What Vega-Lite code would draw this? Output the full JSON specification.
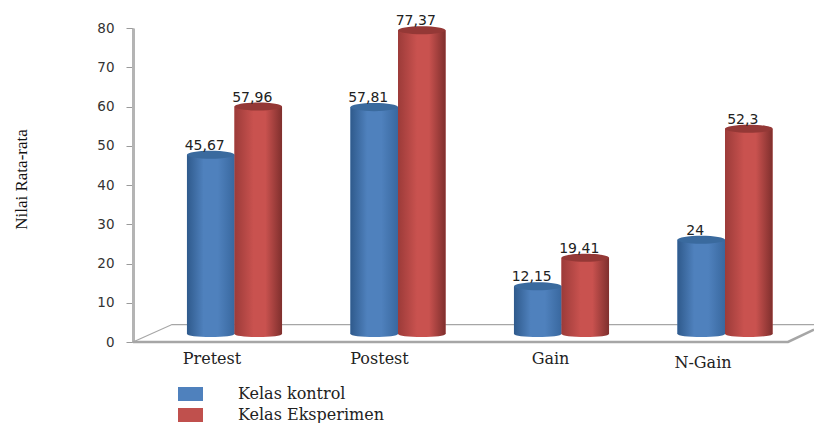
{
  "$schema": "https://vega.github.io/schema/vega-lite/v6.json",
  "width": 681,
  "height": 314,
  "autosize": "none",
  "padding": {"left": 133, "top": 28, "right": 0, "bottom": 81},
  "background": "white",
  "config": {"view": {"stroke": null}},
  "datasets": {
    "scores": [
      {"test": "Pretest", "kelas": "Kelas kontrol", "nilai": 45.67, "label": "45,67"},
      {"test": "Pretest", "kelas": "Kelas Eksperimen", "nilai": 57.96, "label": "57,96"},
      {"test": "Postest", "kelas": "Kelas kontrol", "nilai": 57.81, "label": "57,81"},
      {"test": "Postest", "kelas": "Kelas Eksperimen", "nilai": 77.37, "label": "77,37"},
      {"test": "Gain", "kelas": "Kelas kontrol", "nilai": 12.15, "label": "12,15"},
      {"test": "Gain", "kelas": "Kelas Eksperimen", "nilai": 19.41, "label": "19,41"},
      {"test": "N-Gain", "kelas": "Kelas kontrol", "nilai": 24, "label": "24"},
      {"test": "N-Gain", "kelas": "Kelas Eksperimen", "nilai": 52.3, "label": "52,3"}
    ],
    "floor": [
      {"edge": "back", "step": 1, "depth": 0, "level": 0},
      {"edge": "back", "step": 2, "depth": 39, "level": 4.45},
      {"edge": "back", "step": 3, "depth": 681, "level": 4.45},
      {"edge": "front", "step": 1, "depth": 0, "level": 0},
      {"edge": "front", "step": 2, "depth": 655, "level": 0},
      {"edge": "front", "step": 3, "depth": 681, "level": 3.18}
    ]
  },
  "resolve": {"scale": {"x": "independent"}, "axis": {"x": "independent"}},
  "layer": [
    {
      "data": {"name": "floor"},
      "mark": {"type": "line", "interpolate": "linear", "clip": false},
      "encoding": {
        "x": {"field": "depth", "type": "quantitative", "axis": null, "scale": {"domain": [0, 681], "nice": false, "zero": false}},
        "y": {
          "field": "level",
          "type": "quantitative",
          "title": "Nilai Rata-rata",
          "scale": {"domain": [0, 80], "nice": false},
          "axis": {
            "values": [0, 10, 20, 30, 40, 50, 60, 70, 80],
            "grid": false,
            "labelOverlap": false,
            "domainColor": "#b4b4b4",
            "domainWidth": 3,
            "tickColor": "#9a9a9a",
            "tickSize": 7,
            "tickWidth": 1,
            "labelFont": "DejaVu Sans",
            "labelFontSize": 13.5,
            "labelColor": "#333333",
            "labelPadding": 12,
            "titleFont": "Liberation Serif",
            "titleFontSize": 17,
            "titleFontWeight": "normal",
            "titleColor": "#111111",
            "titleX": -103,
            "titleY": 151
          }
        },
        "order": {"field": "step"},
        "detail": {"field": "edge"},
        "color": {"value": "#a6a6a6"},
        "strokeWidth": {"condition": {"test": "datum.edge === 'front'", "value": 2.5}, "value": 1.2}
      }
    },
    {
      "data": {"name": "scores"},
      "encoding": {
        "x": {
          "field": "test",
          "type": "nominal",
          "sort": ["Pretest", "Postest", "Gain", "N-Gain"],
          "title": null,
          "scale": {"type": "band", "range": [19.75, 673.75], "paddingInner": 0, "paddingOuter": 0},
          "axis": {
            "domain": false,
            "ticks": false,
            "labelAngle": 0,
            "labelFont": "DejaVu Serif",
            "labelFontSize": 16,
            "labelColor": "#222222",
            "labelPadding": {"condition": {"test": "datum.value === 'N-Gain'", "value": 12}, "value": 8},
            "labelOffset": {"condition": [
              {"test": "datum.value === 'Pretest'", "value": -22.5},
              {"test": "datum.value === 'Postest'", "value": -18.5},
              {"test": "datum.value === 'Gain'", "value": -11}
            ], "value": -22}
          }
        },
        "xOffset": {
          "field": "kelas",
          "type": "nominal",
          "sort": ["Kelas kontrol", "Kelas Eksperimen"],
          "scale": {"type": "band", "paddingInner": 0, "paddingOuter": 0.72}
        },
        "y": {
          "field": "nilai",
          "type": "quantitative",
          "title": "Nilai Rata-rata",
          "scale": {"domain": [0, 80], "nice": false},
          "axis": {
            "values": [0, 10, 20, 30, 40, 50, 60, 70, 80],
            "grid": false,
            "labelOverlap": false,
            "domainColor": "#b4b4b4",
            "domainWidth": 3,
            "tickColor": "#9a9a9a",
            "tickSize": 7,
            "tickWidth": 1,
            "labelFont": "DejaVu Sans",
            "labelFontSize": 13.5,
            "labelColor": "#333333",
            "labelPadding": 12,
            "titleFont": "Liberation Serif",
            "titleFontSize": 17,
            "titleFontWeight": "normal",
            "titleColor": "#111111",
            "titleX": -103,
            "titleY": 151
          }
        }
      },
      "layer": [
        {
          "mark": {"type": "bar", "yOffset": -8, "y2Offset": -8},
          "encoding": {
            "color": {
              "field": "kelas",
              "type": "nominal",
              "sort": ["Kelas kontrol", "Kelas Eksperimen"],
              "scale": {"domain": ["Kelas kontrol", "Kelas Eksperimen"], "range": ["#4f81bd", "#c0504d"]},
              "title": null,
              "legend": {
                "orient": "none",
                "legendX": 47.5,
                "legendY": 356,
                "symbolType": "M-1.25,-0.7H1.25V0.7H-1.25Z",
                "symbolSize": 400,
                "symbolStrokeWidth": 0,
                "symbolOpacity": 1,
                "labelFont": "DejaVu Serif",
                "labelFontSize": 16,
                "labelColor": "#222222",
                "labelOffset": 37.5,
                "labelLimit": 300,
                "rowPadding": 3
              }
            }
          }
        },
        {
          "transform": [{"filter": "datum.kelas === 'Kelas kontrol'"}],
          "mark": {
            "type": "point", "filled": true, "opacity": 1, "size": 2256, "yOffset": -8,
            "shape": "M-1,0A1,0.13 0 1,1 1,0A1,0.13 0 1,1 -1,0Z",
            "color": {"gradient": "linear", "x1": 0, "x2": 1, "y1": 0, "y2": 0, "stops": [
              {"offset": 0, "color": "#2f5a8c"}, {"offset": 0.35, "color": "#4f81bd"},
              {"offset": 0.65, "color": "#4f81bd"}, {"offset": 1, "color": "#39689f"}
            ]}
          },
          "encoding": {"y": {"datum": 0}}
        },
        {
          "transform": [{"filter": "datum.kelas === 'Kelas Eksperimen'"}],
          "mark": {
            "type": "point", "filled": true, "opacity": 1, "size": 2256, "yOffset": -8,
            "shape": "M-1,0A1,0.13 0 1,1 1,0A1,0.13 0 1,1 -1,0Z",
            "color": {"gradient": "linear", "x1": 0, "x2": 1, "y1": 0, "y2": 0, "stops": [
              {"offset": 0, "color": "#9c3b39"}, {"offset": 0.4, "color": "#c9524f"},
              {"offset": 0.65, "color": "#c9524f"}, {"offset": 1, "color": "#7f2f2d"}
            ]}
          },
          "encoding": {"y": {"datum": 0}}
        },
        {
          "transform": [{"filter": "datum.kelas === 'Kelas kontrol'"}],
          "mark": {
            "type": "bar", "yOffset": -8, "y2Offset": -8,
            "color": {"gradient": "linear", "x1": 0, "x2": 1, "y1": 0, "y2": 0, "stops": [
              {"offset": 0, "color": "#2f5a8c"}, {"offset": 0.35, "color": "#4f81bd"},
              {"offset": 0.65, "color": "#4f81bd"}, {"offset": 1, "color": "#39689f"}
            ]}
          }
        },
        {
          "transform": [{"filter": "datum.kelas === 'Kelas Eksperimen'"}],
          "mark": {
            "type": "bar", "yOffset": -8, "y2Offset": -8,
            "color": {"gradient": "linear", "x1": 0, "x2": 1, "y1": 0, "y2": 0, "stops": [
              {"offset": 0, "color": "#9c3b39"}, {"offset": 0.4, "color": "#c9524f"},
              {"offset": 0.65, "color": "#c9524f"}, {"offset": 1, "color": "#7f2f2d"}
            ]}
          }
        },
        {
          "transform": [{"filter": "datum.kelas === 'Kelas kontrol'"}],
          "mark": {
            "type": "point", "filled": true, "opacity": 1, "size": 2256, "yOffset": -8, "color": "#3a6a9e",
            "shape": "M-1,0A1,0.17 0 1,1 1,0A1,0.17 0 1,1 -1,0Z"
          }
        },
        {
          "transform": [{"filter": "datum.kelas === 'Kelas Eksperimen'"}],
          "mark": {
            "type": "point", "filled": true, "opacity": 1, "size": 2256, "yOffset": -8, "color": "#943836",
            "shape": "M-1,0A1,0.17 0 1,1 1,0A1,0.17 0 1,1 -1,0Z"
          }
        },
        {
          "mark": {"type": "text", "font": "DejaVu Sans", "fontSize": 14, "color": "#222222", "baseline": "middle", "yOffset": -17, "dx": -6},
          "encoding": {"text": {"field": "label"}}
        }
      ]
    }
  ]
}
